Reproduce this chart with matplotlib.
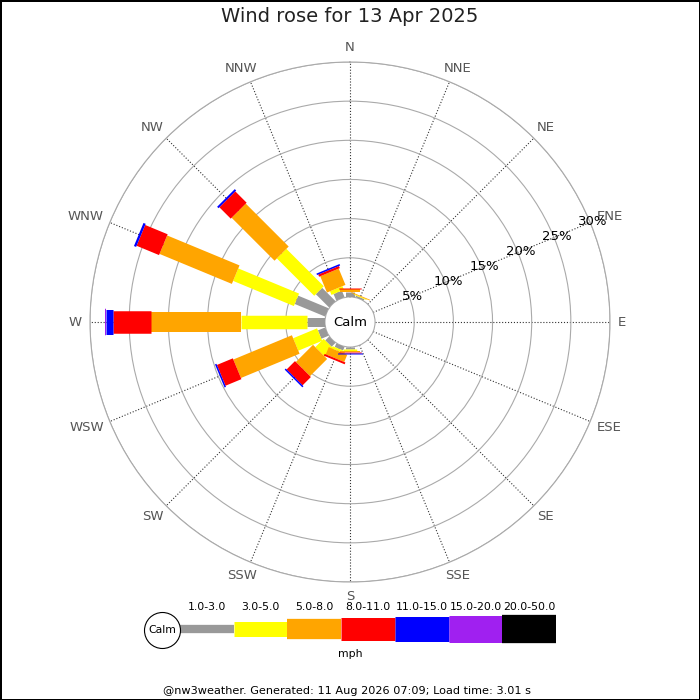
import numpy as np
import matplotlib
matplotlib.use('Agg')
import matplotlib.pyplot as plt

# compass directions, clockwise from north
directions = ['N', 'NNE', 'NE', 'ENE', 'E', 'ESE', 'SE', 'SSE',
              'S', 'SSW', 'SW', 'WSW', 'W', 'WNW', 'NW', 'NNW']
speed_bins = ['1.0-3.0', '3.0-5.0', '5.0-8.0', '8.0-11.0',
              '11.0-15.0', '15.0-20.0', '20.0-50.0']

# % of the day in each speed bin, per direction
pct_1_3 = [0.6, 0.2, 0, 0, 0, 0, 0, 0, 0.3, 0.5, 0.7, 1.0, 2.3, 4.2, 2.4, 0.9]
pct_3_5 = [0.05, 0.1, 0, 0, 0, 0, 0, 0, 0.15, 0.3, 1.5, 3.3, 8.4, 8.4, 6.75, 0.5]
pct_5_8 = [0.35, 0.1, 0, 0, 0, 0, 0, 0, 0.15, 1.0, 3.1, 8.1, 11.5, 10.0, 7.75, 2.25]
pct_8_11 = [0.15, 0, 0, 0, 0, 0, 0, 0, 0.15, 0.25, 1.5, 2.2, 4.9, 3.1, 2.05, 0.3]
pct_11_15 = [0, 0, 0, 0, 0, 0, 0, 0, 0.15, 0, 0.2, 0.2, 0.85, 0.3, 0.25, 0.2]
pct_15_20 = [0, 0, 0, 0, 0, 0, 0, 0, 0, 0, 0, 0, 0.13, 0, 0, 0]
pct_20_50 = [0, 0, 0, 0, 0, 0, 0, 0, 0, 0, 0, 0, 0, 0, 0, 0]

rings = [5, 10, 15, 20, 25, 30]

colors = ['#999999', '#ffff00', '#ffa500', '#ff0000', '#0000ff', '#a020f0', '#000000']
rose_px = [9, 13.5, 20, 22.5, 25, 26.5, 28]      # bar thickness in the rose (pixels)
key_px = [8.3, 15, 20.3, 23, 25, 27, 28.3]       # bar thickness in the key (pixels)
PT = 0.72                                         # pixels -> points at dpi 100
R_ORIGIN = -3.2

fig = plt.figure(figsize=(7, 7), dpi=100)

# ---- rose ----
ax = fig.add_axes([90/700, 118/700, 520/700, 520/700], projection='polar')
ax.set_theta_zero_location('N')
ax.set_theta_direction(-1)
ax.set_ylim(0, rings[-1])
ax.set_rorigin(R_ORIGIN)

theta = np.deg2rad(np.arange(len(directions)) * 22.5)
ax.set_xticks(theta)
ax.set_xticklabels([])
ax.set_yticks(rings)
ax.set_yticklabels([])
ax.xaxis.grid(True, color='#333333', linestyle=':', linewidth=0.8)
ax.yaxis.grid(True, color='#aaaaaa', linestyle='-', linewidth=0.8)
for s in ax.spines.values():
    s.set_color('#aaaaaa')
    s.set_linewidth(0.8)

bins = [pct_1_3, pct_3_5, pct_5_8, pct_8_11, pct_11_15, pct_15_20, pct_20_50]
bottom = np.zeros(len(directions))
for vals, col, w in zip(bins, colors, rose_px):
    vals = np.array(vals, dtype=float)
    for t, b, v in zip(theta, bottom, vals):
        if v > 0:
            ax.plot([t, t], [b, b + v], color=col, lw=w*PT,
                    solid_capstyle='butt', zorder=3)
    bottom += vals

for r in rings:
    ax.text(np.deg2rad(67.5), r + 0.4, f'{r}%', ha='center', va='center',
            fontsize=9.5, color='black', zorder=4)

ax.text(0.5, 0.5, 'Calm', transform=ax.transAxes, ha='center', va='center',
        fontsize=9.5)

# direction labels just outside the outer ring, pushed out by half their size
r_lab = 268 * (rings[-1] - R_ORIGIN) / 260 + R_ORIGIN
dir_texts = []
for t, lab in zip(theta, directions):
    a = ax.annotate(lab, xy=(t, r_lab), xytext=(0, 0), textcoords='offset pixels',
                    ha='center', va='center', color='#555555', fontsize=9.5,
                    annotation_clip=False)
    dir_texts.append((t, a))
renderer = fig.canvas.get_renderer()
for t, a in dir_texts:
    bb = a.get_window_extent(renderer)
    a.xyann = (bb.width / 2 * np.sin(t), bb.height / 2 * np.cos(t))

# ---- key ----
lax = fig.add_axes([140/700, 40/700, 430/700, 60/700])
lax.set_xlim(-0.745, 7.26)
lax.set_ylim(60, 0)
lax.axis('off')
for i, (lab, col, h) in enumerate(zip(speed_bins, colors, key_px)):
    lax.plot([i, i + 1], [29.2, 29.2], color=col, lw=h*PT, solid_capstyle='butt')
    lax.text(i + 0.5, 7.3, lab, ha='center', va='center', fontsize=7.8)
lax.plot(-0.335, 30, 'o', ms=36*PT, mfc='white', mec='black', mew=0.8, zorder=5)
lax.text(-0.335, 30, 'Calm', ha='center', va='center', fontsize=7.8, zorder=6)

fig.text(0.5, 1 - 654/700, 'mph', ha='center', va='center', fontsize=7.8)
fig.text(0.5, 1 - 17/700, 'Wind rose for 13 Apr 2025', ha='center', va='center',
         fontsize=14, color='#222222')
fig.text(0.496, 1 - 691/700,
         '@nw3weather. Generated: 11 Aug 2026 07:09; Load time: 3.01 s',
         ha='center', va='center', fontsize=8.1)

fig.patch.set_edgecolor('black')
fig.patch.set_linewidth(2)

plt.savefig('out.png', dpi=100, edgecolor='black')
